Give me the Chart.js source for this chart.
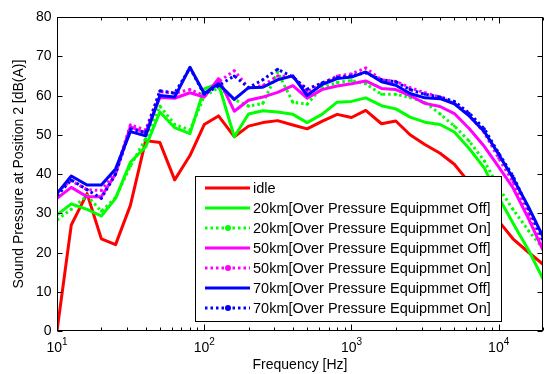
<!DOCTYPE html>
<html>
<head>
<meta charset="utf-8">
<script src="https://cdn.jsdelivr.net/npm/chart.js@4.4.1/dist/chart.umd.min.js"></script>
<style>
  html, body { margin: 0; padding: 0; background: #fff; }
  #wrap { width: 553px; height: 374px; position: relative; }
</style>
</head>
<body>
<div id="wrap"><canvas id="grafico"></canvas></div>
<script>
// 1/3 octave band centre frequencies [Hz]
const freqs = [10, 12.5, 16, 20, 25, 31.5, 40, 50, 63, 80, 100, 125, 160, 200, 250, 315, 400, 500, 630, 800,
  1000, 1250, 1600, 2000, 2500, 3150, 4000, 5000, 6300, 8000, 10000, 12500, 16000, 20000];

const idle = [0, 27, 35, 23.5, 22, 32, 48.5, 48, 38.5, 44.7, 52.6, 54.8, 49.5, 52.2, 53.1, 53.6, 52.5, 51.5, 53.4, 55.2,
  54.4, 56.2, 52.8, 53.5, 50, 47.5, 45.3, 42.5, 37.8, 33, 28, 23.5, 20, 17];
const off20 = [29.6, 32.4, 31, 29.3, 33.8, 43, 46.9, 55.8, 51.8, 50.3, 61.7, 63, 49.5, 55.3, 56.1, 55.8, 55.2, 53.1, 55.2, 58.3,
  58.5, 59.4, 57.4, 56.6, 54.5, 53.2, 52.6, 50.7, 46.5, 41.5, 34, 27.5, 20.5, 13.3];
const on20 = [28.3, 31, 34.5, 30.5, 34, 42, 49, 57.3, 52.6, 51.2, 59.8, 62, 59, 57.3, 58, 66, 58.3, 57.8, 62, 63.3,
  63.8, 63, 60.3, 60.3, 59.5, 58.3, 55.3, 52.2, 48.4, 43.3, 36.5, 31, 25.5, 21];
const off50 = [33.8, 36.6, 34.2, 34.2, 40, 52, 50.5, 59.5, 59.3, 60.7, 59.6, 64.3, 56, 58.8, 59.6, 60.8, 62.5, 59.3, 61.5, 62.4,
  63, 63.7, 61.8, 61.5, 60, 58, 57.2, 55.4, 51.6, 47, 41.8, 36.5, 28.5, 20.6];
const on50 = [35.5, 38.3, 36, 35.8, 40.5, 52.5, 51.2, 61, 60.6, 61.5, 60, 63.5, 66.3, 62, 62.5, 65, 64.8, 61, 63, 65,
  65.5, 67, 64, 63.6, 62, 60.7, 59.6, 58, 55, 50.5, 44, 38, 29.5, 21];
const off70 = [35, 39.5, 37.2, 37.2, 41.3, 50.8, 49.7, 60, 59.6, 67.2, 60.5, 63, 59, 62, 62.1, 64, 65, 60, 62.8, 64.3,
  64.7, 66, 63.5, 62.6, 60.5, 59.4, 59.2, 57.9, 54.8, 50.8, 45, 39, 31.5, 24];
const on70 = [34.5, 38.5, 36, 33.8, 40, 51.5, 50.5, 61.2, 60.6, 67, 60.3, 62.5, 65, 62, 64, 66.7, 64.7, 61.6, 63.2, 64.6,
  65, 65.8, 64, 63.5, 61.5, 60.3, 59.6, 58.5, 55.5, 51.5, 45.3, 39.5, 31, 23];

const seriesNames = ['idle',
  '20km[Over Pressure Equipmmet Off]', '20km[Over Pressure Equipmmet On]',
  '50km[Over Pressure Equipmmet Off]', '50km[Over Pressure Equipmmet On]',
  '70km[Over Pressure Equipmmet Off]', '70km[Over Pressure Equipmmet On]'];
const seriesValues = [idle, off20, on20, off50, on50, off70, on70];
const seriesColors = ['#ff0000', '#00ff00', '#00ff00', '#ff00ff', '#ff00ff', '#0000ff', '#0000ff'];
const seriesDotted = [false, false, true, false, true, false, true];

const yTicks = [0, 10, 20, 30, 40, 50, 60, 70, 80];
const xDecades = [1, 2, 3, 4];

const FONT = '"Liberation Sans", Arial, sans-serif';

const datasets = seriesValues.map((vals, i) => ({
  label: seriesNames[i],
  data: freqs.map((f, k) => ({ x: f, y: vals[k] })),
  borderColor: seriesColors[i],
  backgroundColor: seriesColors[i],
  borderWidth: 3,
  borderDash: seriesDotted[i] ? [2.5, 3] : [],
  borderCapStyle: 'butt',
  borderJoinStyle: 'round',
  pointRadius: seriesDotted[i] ? 1.5 : 0,
  pointBorderWidth: 0,
  tension: 0,
  fill: false,
  order: seriesValues.length - i
}));

// frame, ticks, labels and legend in MATLAB style
const ejesMatlab = {
  id: 'ejesMatlab',
  afterDraw(chart) {
    const ctx = chart.ctx;
    const a = chart.chartArea;
    const xs = chart.scales.x;
    const ys = chart.scales.y;
    ctx.save();
    ctx.strokeStyle = '#000';
    ctx.fillStyle = '#000';
    ctx.lineWidth = 1;

    const L = Math.round(a.left) + 0.5, R = Math.round(a.right) - 0.5;
    const T = Math.round(a.top) + 0.5, B = Math.round(a.bottom) - 0.5;
    ctx.strokeRect(L, T, R - L, B - T);

    // y ticks
    ctx.font = '14px ' + FONT;
    ctx.textAlign = 'right';
    ctx.textBaseline = 'middle';
    yTicks.forEach(v => {
      const y = Math.round(ys.getPixelForValue(v)) + 0.5;
      ctx.beginPath();
      ctx.moveTo(L, y); ctx.lineTo(L + 5, y);
      ctx.moveTo(R, y); ctx.lineTo(R - 5, y);
      ctx.stroke();
      ctx.fillText(String(v), L - 6, y);
    });

    // x ticks (log)
    for (let d = 1; d <= 4; d++) {
      for (let m = 1; m <= 9; m++) {
        const f = m * Math.pow(10, d);
        if (f > xs.max + 1e-6) break;
        const x = Math.round(xs.getPixelForValue(f)) + 0.5;
        const len = m === 1 ? 6 : 3;
        ctx.beginPath();
        ctx.moveTo(x, B); ctx.lineTo(x, B - len);
        ctx.moveTo(x, T); ctx.lineTo(x, T + len);
        ctx.stroke();
      }
    }
    ctx.textAlign = 'left';
    ctx.textBaseline = 'alphabetic';
    xDecades.forEach(d => {
      const x = xs.getPixelForValue(Math.pow(10, d));
      ctx.font = '14px ' + FONT;
      const w1 = ctx.measureText('10').width;
      ctx.font = '10px ' + FONT;
      const w2 = ctx.measureText(String(d)).width;
      const x0 = x - (w1 + w2) / 2;
      ctx.font = '14px ' + FONT;
      ctx.fillText('10', x0, 352);
      ctx.font = '10px ' + FONT;
      ctx.fillText(String(d), x0 + w1, 345);
    });

    // axis titles
    ctx.font = '14px ' + FONT;
    ctx.textAlign = 'center';
    ctx.textBaseline = 'middle';
    ctx.fillText('Frequency [Hz]', (a.left + a.right) / 2, 365);
    ctx.save();
    ctx.translate(19, (a.top + a.bottom) / 2);
    ctx.rotate(-Math.PI / 2);
    ctx.fillText('Sound Pressure at Position 2 [dB(A)]', 0, 0);
    ctx.restore();

    // legend
    const lx = 195.5, ly = 176.5, lw = 306, lh = 145;
    ctx.fillStyle = '#fff';
    ctx.fillRect(lx, ly, lw, lh);
    ctx.strokeStyle = '#000';
    ctx.lineWidth = 1;
    ctx.strokeRect(lx, ly, lw, lh);
    ctx.font = '14.5px ' + FONT;
    ctx.textAlign = 'left';
    ctx.textBaseline = 'middle';
    seriesNames.forEach((name, i) => {
      const y = 188 + i * 20;
      ctx.strokeStyle = seriesColors[i];
      ctx.lineWidth = 3;
      ctx.setLineDash(seriesDotted[i] ? [2.5, 3] : []);
      ctx.beginPath();
      ctx.moveTo(205, y); ctx.lineTo(250, y);
      ctx.stroke();
      ctx.setLineDash([]);
      if (seriesDotted[i]) {
        ctx.fillStyle = seriesColors[i];
        ctx.beginPath();
        ctx.arc(228, y, 3, 0, Math.PI * 2);
        ctx.fill();
      }
      ctx.fillStyle = '#000';
      ctx.fillText(name, 253, y + 0.5);
    });
    ctx.restore();
  }
};

new Chart(document.getElementById('grafico'), {
  type: 'line',
  data: { datasets },
  options: {
    responsive: true,
    maintainAspectRatio: false,
    animation: false,
    devicePixelRatio: 1,
    layout: { padding: { left: 57, right: 10, top: 17, bottom: 43 } },
    plugins: { legend: { display: false }, tooltip: { enabled: false } },
    scales: {
      x: { type: 'logarithmic', min: 10, max: 20000, display: false },
      y: { type: 'linear', min: 0, max: 80, display: false }
    }
  },
  plugins: [ejesMatlab]
});
</script>
</body>
</html>
